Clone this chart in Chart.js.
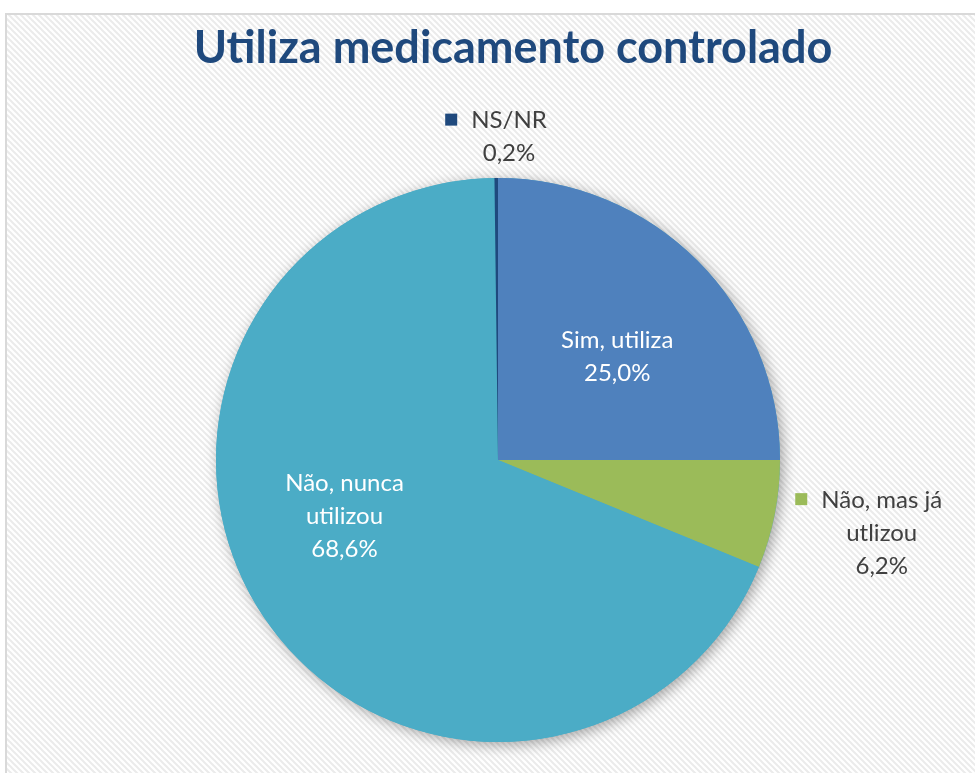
<!DOCTYPE html>
<html>
<head>
<meta charset="utf-8">
<script src="https://cdn.jsdelivr.net/npm/chart.js@4.4.0/dist/chart.umd.min.js"></script>
<style>
  body { margin: 0; background: #fff; }
</style>
</head>
<body>
<canvas id="pieChart" width="975" height="773"></canvas>
<script>
const chartTitle = 'Utiliza medicamento controlado';
const categories = ['Sim, utiliza', 'Não, mas já utlizou', 'Não, nunca utilizou', 'NS/NR'];
const labelLines = [['Sim, utiliza'], ['Não, mas já', 'utlizou'], ['Não, nunca', 'utilizou'], ['NS/NR']];
const values = [25.0, 6.2, 68.6, 0.2];
const colors = ['#4F81BD', '#9BBB59', '#4BACC6', '#1F497D'];

// where each label sits: fraction of radius, angle nudge (deg), outside with key
const labelRadius = [0.56, 1.34, 0.58, 1.145];
const labelShift = [4, 0, 14, 0];
const labelOutside = [false, true, false, true];

function fmtPct(v) {
    return v.toFixed(1).replace('.', ',') + '%';
}

function stripePattern(ctx) {
    const tile = document.createElement('canvas');
    tile.width = 6; tile.height = 6;
    const t = tile.getContext('2d');
    t.fillStyle = '#ffffff';
    t.fillRect(0, 0, 6, 6);
    t.strokeStyle = '#ebebeb';
    t.lineWidth = 2;
    t.beginPath();
    t.moveTo(0, 0); t.lineTo(6, 6);
    t.moveTo(-1, 5); t.lineTo(1, 7);
    t.moveTo(5, -1); t.lineTo(7, 1);
    t.stroke();
    return ctx.createPattern(tile, 'repeat');
}

const framePlugin = {
    id: 'frame',
    beforeDraw(chart) {
        const ctx = chart.ctx;
        ctx.save();
        ctx.fillStyle = '#ffffff';
        ctx.fillRect(0, 0, chart.width, chart.height);
        ctx.fillStyle = stripePattern(ctx);
        ctx.fillRect(6, 14, chart.width, chart.height);
        ctx.strokeStyle = '#d9d9d9';
        ctx.lineWidth = 2;
        ctx.strokeRect(6, 14, chart.width + 10, chart.height + 10);

        ctx.fillStyle = '#1F497D';
        ctx.font = 'bold 45px Lato';
        ctx.textAlign = 'center';
        ctx.textBaseline = 'alphabetic';
        ctx.fillText(chartTitle, 513, 63);
        ctx.restore();
    },
    beforeDatasetsDraw(chart) {
        // soft shadow under the whole pie
        const arc = chart.getDatasetMeta(0).data[0];
        if (!arc) return;
        const ctx = chart.ctx;
        ctx.save();
        ctx.shadowColor = 'rgba(0,0,0,0.35)';
        ctx.shadowBlur = 14;
        ctx.shadowOffsetX = 3;
        ctx.shadowOffsetY = 3;
        ctx.beginPath();
        ctx.arc(arc.x, arc.y, arc.outerRadius, 0, Math.PI * 2);
        ctx.fillStyle = colors[2];
        ctx.fill();
        ctx.restore();
    },
    afterDatasetsDraw(chart) {
        const ctx = chart.ctx;
        const lineH = 33;
        ctx.save();
        ctx.font = '24px Lato';
        ctx.textAlign = 'center';
        ctx.textBaseline = 'middle';
        chart.getDatasetMeta(0).data.forEach((arc, i) => {
            const p = arc.getProps(['x', 'y', 'startAngle', 'endAngle', 'outerRadius'], true);
            const mid = (p.startAngle + p.endAngle) / 2 + labelShift[i] * Math.PI / 180;
            const r = p.outerRadius * labelRadius[i];
            const px = p.x + Math.cos(mid) * r;
            const py = p.y + Math.sin(mid) * r;
            const lines = labelLines[i].concat([fmtPct(values[i])]);
            const y0 = py - (lines.length - 1) * lineH / 2;
            let cx = px;
            if (labelOutside[i]) {
                const w1 = ctx.measureText(lines[0]).width;
                const box = 12, gap = 14;
                const total = box + gap + w1;
                cx = px - total / 2 + box + gap + w1 / 2;
                ctx.fillStyle = colors[i];
                ctx.fillRect(cx - w1 / 2 - gap - box, y0 - 7, box, box);
                ctx.fillStyle = '#404040';
            } else {
                ctx.fillStyle = '#ffffff';
            }
            lines.forEach((ln, k) => ctx.fillText(ln, cx, y0 + k * lineH));
        });
        ctx.restore();
    }
};

new Chart(document.getElementById('pieChart').getContext('2d'), {
    type: 'pie',
    data: {
        labels: categories,
        datasets: [{
            data: values,
            backgroundColor: colors,
            borderWidth: 0,
            hoverOffset: 0
        }]
    },
    options: {
        responsive: false,
        animation: false,
        events: [],
        layout: { padding: { left: 216, top: 178, right: 195, bottom: 31 } },
        plugins: {
            legend: { display: false },
            tooltip: { enabled: false }
        }
    },
    plugins: [framePlugin]
});
</script>
</body>
</html>
